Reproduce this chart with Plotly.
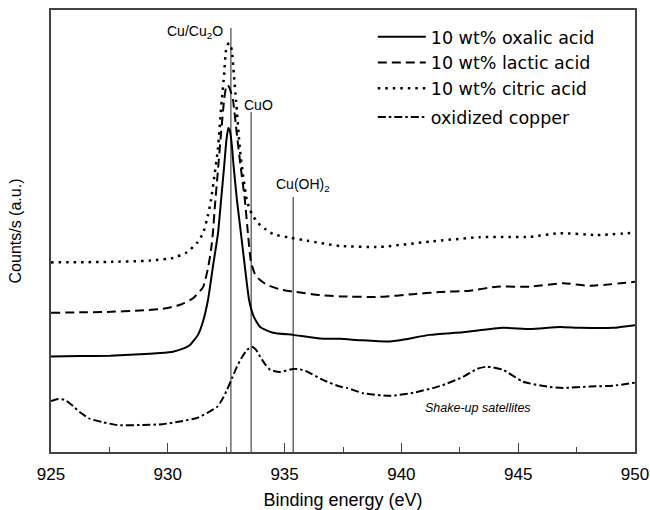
import plotly.graph_objects as go

# ---- data (binding energy in eV, intensity in arbitrary units) ----
oxalic_x = [925.00, 926.24, 927.53, 928.81, 929.67, 930.22, 930.65, 930.95, 931.29, 931.51,
            931.72, 931.93, 932.15, 932.28, 932.41, 932.51, 932.59, 932.66, 932.74, 932.82,
            932.96, 933.13, 933.30, 933.48, 933.69, 933.95, 934.50, 935.36, 936.52, 937.37,
            938.23, 939.38, 939.94, 941.22, 942.64, 944.35, 945.51, 946.79, 947.65, 949.06, 950.00]
oxalic_y = [21.6, 21.7, 21.8, 22.1, 22.4, 22.7, 23.4, 24.2, 26.5, 29.6,
            34.4, 41.9, 49.5, 57.0, 64.5, 70.6, 73.3, 72.6, 69.5, 64.5,
            57.0, 49.5, 41.9, 34.4, 30.5, 28.3, 27.0, 26.5, 25.7, 25.6,
            25.3, 25.0, 25.3, 26.5, 27.1, 28.1, 27.8, 28.3, 28.1, 28.1, 28.7]

lactic_x = [925.00, 926.24, 927.40, 928.81, 929.79, 930.52, 931.08, 931.51, 931.72, 931.85,
            931.93, 932.02, 932.13, 932.28, 932.41, 932.49, 932.56, 932.64, 932.79, 932.95,
            933.12, 933.30, 933.43, 933.56, 933.73, 933.95, 934.25, 934.80, 935.36, 936.52,
            937.37, 939.08, 940.50, 941.65, 942.94, 944.09, 945.51, 946.92, 948.07, 950.00]
lactic_y = [31.5, 31.6, 31.7, 32.0, 32.4, 33.3, 34.8, 37.3, 41.6, 45.7,
            49.5, 55.9, 62.7, 72.2, 79.6, 82.4, 83.0, 82.4, 79.6, 72.2,
            64.5, 57.0, 49.5, 43.0, 40.3, 38.9, 37.8, 36.8, 36.3, 35.5,
            35.2, 35.1, 35.7, 36.2, 36.5, 37.4, 37.4, 38.2, 37.6, 38.5]

citric_x = [925.00, 927.40, 929.24, 930.22, 930.82, 931.25, 931.51, 931.72, 931.85, 932.00,
            932.14, 932.31, 932.41, 932.49, 932.58, 932.64, 932.74, 932.83, 932.92, 933.09,
            933.22, 933.38, 933.52, 933.65, 933.82, 934.16, 934.50, 935.23, 935.96, 936.52,
            937.37, 939.08, 941.22, 943.36, 945.51, 946.79, 948.37, 950.00]
citric_y = [42.9, 43.0, 43.3, 43.9, 45.2, 47.3, 49.5, 53.6, 57.0, 62.7,
            68.3, 79.6, 85.3, 90.9, 92.3, 92.5, 90.9, 85.3, 79.6, 68.3,
            62.7, 57.0, 54.8, 53.4, 52.0, 50.5, 49.3, 48.5, 47.8, 47.3,
            46.6, 46.4, 47.6, 48.6, 48.7, 49.5, 49.1, 49.6]

oxid_x = [925.00, 925.30, 925.60, 925.94, 926.24, 926.67, 927.18, 927.83, 928.81, 929.79,
          930.52, 931.25, 931.68, 932.11, 932.32, 932.53, 932.75, 932.96, 933.18, 933.39,
          933.60, 933.78, 933.95, 934.16, 934.38, 934.80, 935.36, 935.66, 935.96, 936.64,
          937.37, 937.67, 938.36, 939.51, 940.50, 941.65, 942.64, 943.24, 943.66, 944.35,
          945.21, 946.23, 946.92, 948.07, 949.06, 950.00]
oxid_y = [11.5, 12.0, 11.8, 10.4, 9.0, 7.5, 6.8, 6.1, 6.1, 6.3,
          6.9, 7.7, 8.8, 10.2, 11.8, 14.0, 16.7, 19.3, 21.5, 23.1,
          23.8, 23.1, 21.6, 19.9, 18.6, 18.1, 18.8, 18.7, 18.2, 16.3,
          14.8, 14.5, 13.3, 12.7, 13.4, 14.9, 17.0, 18.8, 19.3, 18.6,
          15.9, 14.8, 14.5, 14.8, 15.0, 15.7]

series_names = ["10 wt% oxalic acid", "10 wt% lactic acid", "10 wt% citric acid", "oxidized copper"]

ref_names = ["Cu/Cu<sub>2</sub>O", "CuO", "Cu(OH)<sub>2</sub>"]
ref_energy = [932.70, 933.57, 935.37]
ref_top = [95.9, 76.9, 57.7]
ref_label_y = [95.0, 78.5, 60.4]

satellite_label = "Shake-up satellites"
satellite_pos = (943.28, 10.0)

x_ticks = [925, 930, 935, 940, 945, 950]

# ---- figure ----
fig = go.Figure()

styles = [
    dict(color="black", width=2.0, dash="solid"),
    dict(color="black", width=2.0, dash="9px,5px"),
    dict(color="black", width=2.5, dash="2.5px,5px"),
    dict(color="black", width=2.0, dash="8px,3px,2.5px,3px"),
]
groups = ["a", "a", "a", "b"]
for xs, ys, name, st, g in zip([oxalic_x, lactic_x, citric_x, oxid_x],
                               [oxalic_y, lactic_y, citric_y, oxid_y],
                               series_names, styles, groups):
    fig.add_trace(go.Scatter(x=xs, y=ys, mode="lines", name=name, legendgroup=g,
                             line=dict(shape="spline", smoothing=0.5, **st)))

label_anchor = ["right", "left", "left"]
label_shift = [-6, -9, -19]
for e, top, lab, ly, anc, sh in zip(ref_energy, ref_top, ref_names, ref_label_y,
                                     label_anchor, label_shift):
    fig.add_shape(type="line", x0=e, x1=e, y0=0, y1=top, xref="x", yref="y",
                  line=dict(color="#6b6b6b", width=1.5), layer="below")
    fig.add_annotation(x=e, y=ly, text=lab, showarrow=False, xanchor=anc, xshift=sh,
                       font=dict(family="Liberation Sans, Arial", size=14, color="black"))

fig.add_annotation(x=satellite_pos[0], y=satellite_pos[1], text="<i>" + satellite_label + "</i>",
                   showarrow=False, font=dict(family="Liberation Sans, Arial", size=12.5, color="black"))

fig.update_layout(
    width=650, height=510,
    margin=dict(l=51, r=15, t=10, b=58),
    paper_bgcolor="white", plot_bgcolor="white",
    showlegend=True,
    legend=dict(x=0.551, y=0.98, xanchor="left", yanchor="top",
                font=dict(family="DejaVu Sans", size=17.5, color="black"),
                bgcolor="rgba(0,0,0,0)", traceorder="grouped", tracegroupgap=3,
                itemwidth=48),
    xaxis=dict(range=[925, 950], tickvals=x_ticks, ticks="inside", ticklen=9, tickwidth=1.2,
               tickcolor="#444", showline=True, linecolor="#444", linewidth=1.5, mirror=True,
               showgrid=False, zeroline=False, automargin=False,
               minor=dict(ticks="inside", ticklen=5, dtick=2.5, tickcolor="#444", tickwidth=1.2),
               tickfont=dict(family="Liberation Sans, Arial", size=17, color="black"),
               ticklabelstandoff=6,
               title=dict(text="Binding energy (eV)", standoff=16,
                          font=dict(family="Liberation Sans, Arial", size=18, color="black"))),
    yaxis=dict(range=[0, 100], showticklabels=False, ticks="", showline=True, linecolor="#444",
               linewidth=1.5, mirror=True, showgrid=False, zeroline=False, automargin=False,
               title=dict(text="Counts/s (a.u.)", standoff=24,
                          font=dict(family="Liberation Sans, Arial", size=16, color="black"))),
)

fig.write_html("out.html", config={"displayModeBar": False},
               post_script="document.body.style.margin='0';")
